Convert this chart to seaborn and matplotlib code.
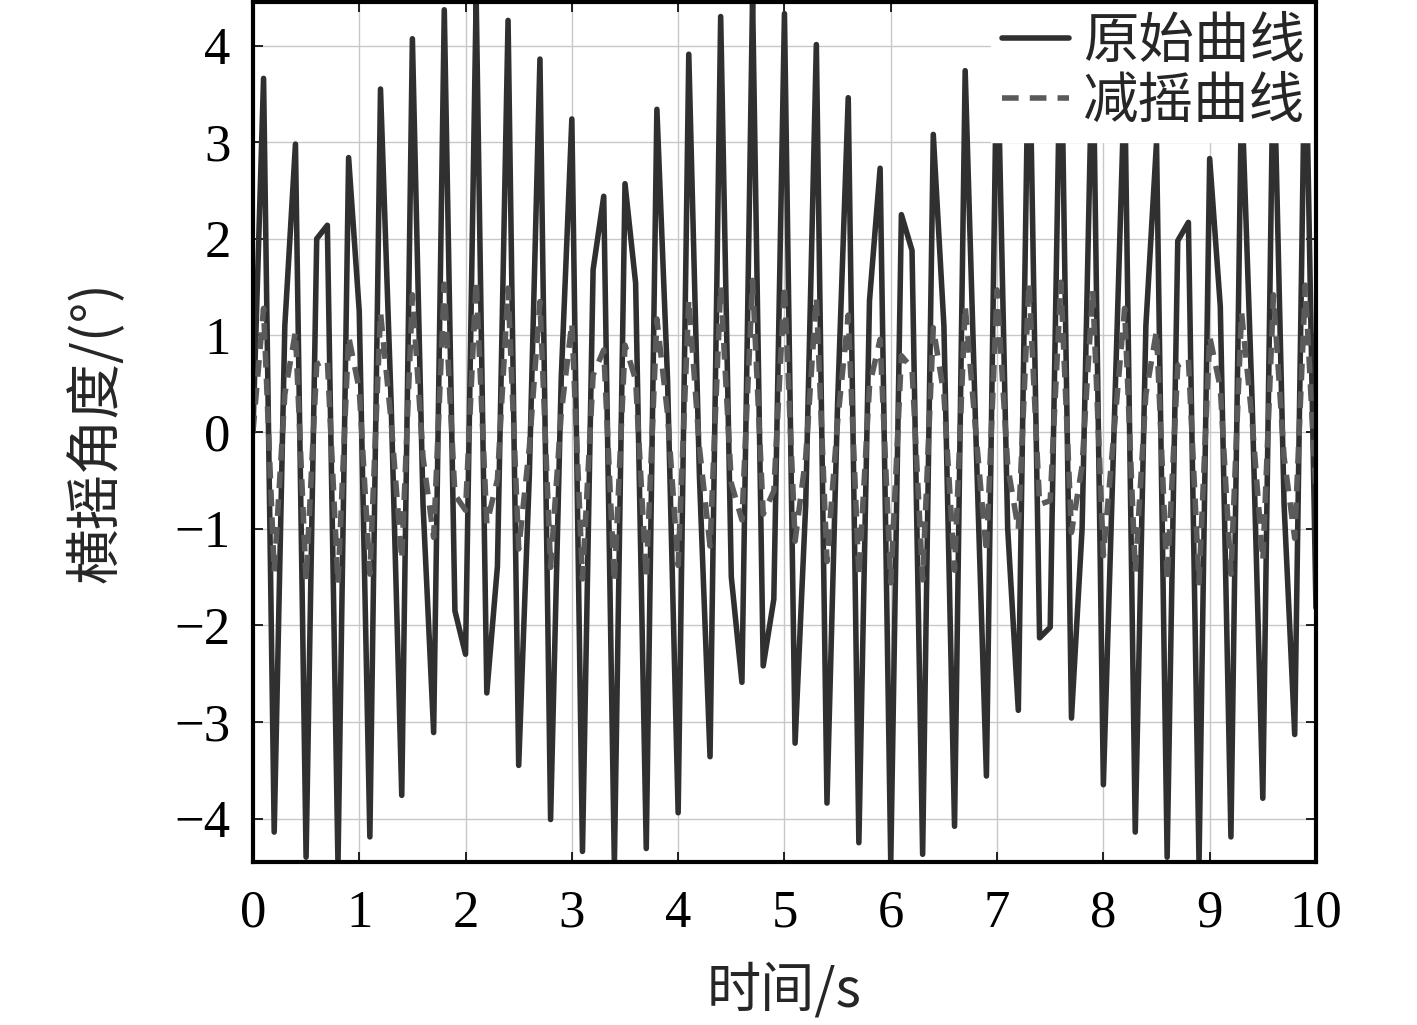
import numpy as np
import pandas as pd
import matplotlib
matplotlib.use("Agg")
import matplotlib.pyplot as plt
import seaborn as sns

time_s = [round(0.1 * i, 1) for i in range(101)]

original = [
    0.00, 3.66, -4.14, 1.10, 2.98, -4.40, 2.00, 2.14, -4.48, 2.84,
    1.25, -4.19, 3.55, 0.30, -3.76, 4.07, -0.75, -3.11, 4.37, -1.85,
    -2.30, 4.50, -2.70, -1.39, 4.26, -3.45, -0.45, 3.86, -4.01, 0.55,
    3.24, -4.34, 1.68, 2.44, -4.48, 2.57, 1.54, -4.31, 3.34, 0.55,
    -3.94, 3.91, -0.45, -3.36, 4.30, -1.50, -2.59, 4.50, -2.42, -1.73,
    4.33, -3.22, -0.75, 4.01, -3.84, 0.30, 3.46, -4.25, 1.36, 2.73,
    -4.46, 2.25, 1.88, -4.37, 3.08, 1.10, -4.08, 3.74, 0.00, -3.56,
    4.20, -1.00, -2.88, 4.42, -2.13, -2.02, 4.42, -2.96, -1.00, 4.20,
    -3.65, 0.00, 3.66, -4.14, 1.10, 3.00, -4.40, 1.98, 2.17, -4.46,
    2.83, 1.30, -4.19, 3.55, 0.30, -3.79, 4.07, -0.75, -3.13, 4.35,
    -1.82,
]

reduced = [
    0.00, 1.28, -1.45, 0.39, 1.04, -1.54, 0.70, 0.75, -1.57, 0.99,
    0.44, -1.47, 1.24, 0.11, -1.32, 1.42, -0.26, -1.09, 1.53, -0.65,
    -0.81, 1.57, -0.95, -0.49, 1.49, -1.21, -0.16, 1.35, -1.40, 0.19,
    1.13, -1.52, 0.59, 0.85, -1.56, 0.90, 0.54, -1.51, 1.17, 0.19,
    -1.38, 1.37, -0.16, -1.18, 1.51, -0.53, -0.91, 1.57, -0.85, -0.61,
    1.52, -1.13, -0.26, 1.40, -1.34, 0.11, 1.21, -1.49, 0.48, 0.96,
    -1.56, 0.79, 0.66, -1.53, 1.08, 0.39, -1.43, 1.31, 0.00, -1.25,
    1.47, -0.35, -1.01, 1.55, -0.75, -0.71, 1.55, -1.04, -0.35, 1.47,
    -1.28, 0.00, 1.28, -1.45, 0.39, 1.05, -1.54, 0.69, 0.76, -1.56,
    0.99, 0.46, -1.47, 1.24, 0.11, -1.33, 1.42, -0.26, -1.10, 1.52,
    -0.64,
]

series_names = ["原始曲线", "减摇曲线"]
x_ticks = list(range(0, 11))
y_ticks = [-4, -3, -2, -1, 0, 1, 2, 3, 4]
x_label = "时间/s"
y_label = "横摇角度/(°)"

sns.set_style("ticks")
plt.rcParams["font.family"] = ["Liberation Serif", "Noto Sans CJK SC", "DejaVu Sans"]
plt.rcParams["axes.unicode_minus"] = True

df = pd.DataFrame({"t": time_s, series_names[0]: original, series_names[1]: reduced})

fig = plt.figure(figsize=(14.17, 10.25), dpi=100)
ax = fig.add_axes([0.1785, 0.159, 0.7502, 0.839])

sns.lineplot(data=df, x="t", y=series_names[0], ax=ax, color="#303030",
             linewidth=4.0, label=series_names[0], zorder=3)
sns.lineplot(data=df, x="t", y=series_names[1], ax=ax, color="#5a5a5a",
             linewidth=4.0, linestyle=(0, (3.0, 2.0)), label=series_names[1], zorder=4)

ax.set_xlim(0, 10)
ax.set_ylim(-4.45, 4.45)
ax.set_xticks(x_ticks)
ax.set_yticks(y_ticks)
ax.set_xticklabels([str(v) for v in x_ticks])
ax.set_yticklabels([("−" + str(-v)) if v < 0 else str(v) for v in y_ticks])
ax.tick_params(direction="in", length=7, width=1.2, top=True, right=True,
               labelsize=38, colors="black")
ax.tick_params(axis="x", pad=20)
ax.tick_params(axis="y", pad=16)
for lab in ax.get_xticklabels() + ax.get_yticklabels():
    lab.set_fontfamily(["Liberation Serif"])
    lab.set_fontsize(38)
ax.grid(True, color="#c8c8c8", linewidth=1.0)
for s in ax.spines.values():
    s.set_linewidth(3.0)
    s.set_color("black")
    s.set_zorder(20)

ax.set_xlabel(x_label, fontsize=39, family=["Noto Sans CJK SC", "Liberation Serif"], labelpad=18)
ax.set_ylabel(y_label, fontsize=40, family=["Noto Sans CJK SC", "Liberation Serif"], labelpad=36)

leg = ax.legend(loc="upper right", frameon=True, fancybox=False, framealpha=1.0,
                edgecolor="white", facecolor="white", borderaxespad=0.0,
                handlelength=1.2, handletextpad=0.25, borderpad=0.2, labelspacing=0.05,
                prop={"family": ["Noto Sans CJK SC"], "size": 40})
leg.set_zorder(10)

fig.savefig("out.png", dpi=100)
